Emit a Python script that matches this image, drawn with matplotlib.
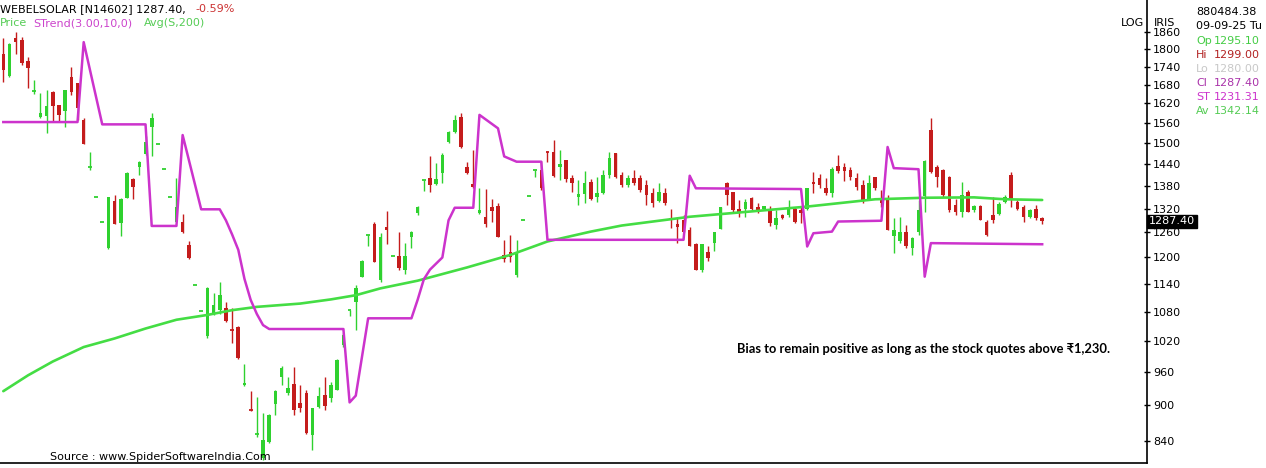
import numpy as np
import matplotlib
matplotlib.use("Agg")
import matplotlib.pyplot as plt

# ---------------- data ----------------
opens = [1785, 1709, 1841, 1833, 1759, 1653, 1578, 1581, 1657, 1614,
         1596, 1706, 1684, 1568, 1426, 1351, 1285, 1222, 1339, 1283,
         1348, 1398, 1432, 1467, 1548, 1498, 1425, 1351, 1287, 1287,
         1230, 1137, 1081, 1029, 1076, 1083, 1087, 1044, 1049, 936,
         894, 848, 812, 838, 902, 950, 921, 938, 904, 921,
         849, 897, 918, 912, 928, 1012, 1082, 1101, 1156, 1253,
         1281, 1149, 1274, 1203, 1203, 1171, 1250, 1308, 1394, 1400,
         1384, 1414, 1503, 1533, 1578, 1432, 1384, 1309, 1299, 1325,
         1326, 1206, 1214, 1160, 1291, 1353, 1422, 1423, 1474, 1474,
         1432, 1451, 1400, 1349, 1358, 1390, 1351, 1360, 1409, 1470,
         1409, 1381, 1401, 1400, 1381, 1360, 1340, 1361, 1299, 1280,
         1291, 1266, 1232, 1171, 1214, 1234, 1269, 1388, 1362, 1320,
         1320, 1348, 1325, 1320, 1320, 1279, 1304, 1304, 1320, 1316,
         1320, 1390, 1400, 1375, 1361, 1434, 1431, 1423, 1400, 1381,
         1346, 1403, 1346, 1344, 1252, 1238, 1262, 1222, 1262, 1353,
         1538, 1432, 1423, 1404, 1329, 1312, 1363, 1316, 1326, 1287,
         1304, 1306, 1338, 1409, 1338, 1325, 1299, 1320, 1295.10]
highs = [1839, 1821, 1862, 1845, 1773, 1695, 1652, 1663, 1660, 1616,
         1664, 1739, 1686, 1573, 1474, 1351, 1285, 1351, 1355, 1348,
         1416, 1401, 1448, 1520, 1589, 1498, 1425, 1351, 1400, 1305,
         1238, 1137, 1081, 1134, 1119, 1145, 1101, 1087, 1050, 975,
         925, 915, 887, 884, 927, 972, 951, 970, 936, 927,
         896, 933, 951, 942, 984, 1036, 1083, 1137, 1194, 1254,
         1287, 1258, 1313, 1203, 1262, 1235, 1264, 1326, 1395, 1462,
         1442, 1470, 1536, 1583, 1591, 1446, 1479, 1375, 1370, 1344,
         1334, 1242, 1254, 1242, 1291, 1353, 1423, 1448, 1475, 1508,
         1479, 1452, 1409, 1395, 1420, 1397, 1403, 1423, 1474, 1472,
         1418, 1409, 1423, 1409, 1395, 1373, 1386, 1373, 1320, 1298,
         1304, 1273, 1234, 1233, 1228, 1262, 1325, 1390, 1363, 1342,
         1346, 1351, 1335, 1327, 1326, 1316, 1306, 1342, 1325, 1326,
         1375, 1418, 1412, 1400, 1432, 1465, 1442, 1432, 1414, 1395,
         1409, 1404, 1368, 1355, 1295, 1298, 1278, 1250, 1342, 1451,
         1573, 1437, 1425, 1405, 1346, 1390, 1368, 1329, 1329, 1291,
         1349, 1338, 1355, 1416, 1342, 1329, 1320, 1329, 1299.00]
lows = [1689, 1706, 1785, 1745, 1668, 1651, 1573, 1528, 1563, 1563,
        1548, 1647, 1568, 1497, 1423, 1351, 1285, 1221, 1280, 1252,
        1347, 1346, 1409, 1466, 1462, 1498, 1425, 1351, 1286, 1259,
        1197, 1137, 1081, 1026, 1073, 1076, 1059, 1015, 985, 935,
        890, 846, 809, 836, 883, 936, 918, 883, 889, 851,
        825, 895, 892, 906, 927, 1008, 1071, 1042, 1155, 1226,
        1189, 1145, 1231, 1203, 1171, 1163, 1222, 1304, 1366, 1363,
        1381, 1386, 1500, 1528, 1486, 1412, 1373, 1307, 1274, 1287,
        1249, 1190, 1190, 1156, 1291, 1353, 1404, 1368, 1446, 1404,
        1395, 1390, 1363, 1329, 1334, 1342, 1338, 1359, 1400, 1402,
        1377, 1377, 1381, 1363, 1329, 1323, 1337, 1329, 1270, 1235,
        1261, 1226, 1170, 1167, 1192, 1216, 1268, 1329, 1312, 1298,
        1298, 1316, 1308, 1318, 1276, 1268, 1294, 1298, 1284, 1283,
        1316, 1360, 1375, 1355, 1351, 1414, 1393, 1395, 1368, 1334,
        1342, 1368, 1325, 1265, 1210, 1234, 1222, 1206, 1254, 1312,
        1414, 1377, 1351, 1312, 1304, 1299, 1311, 1312, 1290, 1252,
        1283, 1304, 1334, 1325, 1316, 1287, 1295, 1291, 1280.00]
closes = [1728, 1817, 1827, 1754, 1736, 1658, 1590, 1612, 1613, 1583,
          1661, 1657, 1604, 1498, 1431, 1351, 1285, 1349, 1281, 1346,
          1414, 1377, 1446, 1503, 1575, 1498, 1425, 1351, 1325, 1260,
          1198, 1137, 1081, 1130, 1094, 1115, 1060, 1041, 986, 940,
          891, 851, 841, 883, 926, 968, 930, 892, 895, 852,
          895, 916, 898, 936, 983, 1032, 1083, 1130, 1192, 1254,
          1190, 1248, 1266, 1203, 1175, 1203, 1262, 1325, 1395, 1381,
          1398, 1465, 1533, 1568, 1487, 1414, 1377, 1316, 1281, 1314,
          1250, 1196, 1202, 1214, 1291, 1353, 1423, 1373, 1473, 1406,
          1439, 1397, 1386, 1358, 1386, 1344, 1360, 1409, 1456, 1404,
          1381, 1400, 1386, 1368, 1355, 1334, 1364, 1335, 1294, 1273,
          1262, 1228, 1171, 1232, 1198, 1260, 1323, 1355, 1316, 1308,
          1338, 1320, 1316, 1326, 1283, 1295, 1296, 1318, 1287, 1308,
          1373, 1384, 1381, 1361, 1425, 1420, 1420, 1404, 1377, 1342,
          1388, 1373, 1334, 1266, 1266, 1262, 1226, 1246, 1316, 1449,
          1418, 1404, 1355, 1316, 1312, 1355, 1312, 1326, 1291, 1254,
          1290, 1332, 1349, 1342, 1318, 1299, 1316, 1295, 1287.40]

# 200-period average, read at sampled bars
avg_idx = [0, 4, 8, 13, 18, 23, 28, 33, 37, 41, 48, 53, 57, 61, 67, 75,
           82, 88, 95, 100, 111, 122, 130, 141, 149, 157, 162, 168]
avg_val = [925, 954, 980, 1008, 1025, 1045, 1063, 1073, 1083, 1090, 1097,
           1106, 1115, 1130, 1147, 1177, 1206, 1238, 1262, 1277, 1299, 1314,
           1325, 1344, 1348, 1349, 1344, 1342.14]

# SuperTrend(3,10) line, read at its turning bars
st_idx = [0, 12, 13, 16, 23, 24, 28, 29, 32, 35, 36, 37, 38, 39, 40, 41, 42,
          43, 55, 56, 57, 59, 66, 67, 68, 69, 71, 72, 73, 76, 77, 80, 81, 83,
          87, 88, 110, 111, 112, 129, 130, 131, 134, 135, 142, 143, 144, 148,
          149, 150, 168]
st_val = [1562, 1562, 1825, 1555, 1555, 1276, 1276, 1523, 1318, 1318, 1290,
          1255, 1218, 1151, 1105, 1075, 1052, 1044, 1044, 905, 917, 1066,
          1066, 1105, 1150, 1172, 1200, 1290, 1322, 1322, 1584, 1543, 1461,
          1446, 1446, 1242, 1242, 1407, 1373, 1371, 1226, 1258, 1262, 1287,
          1289, 1488, 1428, 1425, 1156, 1234, 1231.31]

yticks = [840, 900, 960, 1020, 1080, 1140, 1200, 1260, 1320, 1380, 1440,
          1500, 1560, 1620, 1680, 1740, 1800, 1860]

info_labels = ["Op", "Hi", "Lo", "Cl", "ST", "Av"]
info_values = ["1295.10", "1299.00", "1280.00", "1287.40", "1231.31", "1342.14"]

# ---------------- style ----------------
GREEN = "#2fd12f"
RED = "#c41c1c"
MAGENTA = "#cc33cc"
AVG = "#44dd44"

W, H = 1266, 468
fig = plt.figure(figsize=(W / 100, H / 100), dpi=100)
fig.patch.set_facecolor("white")

ax_left, ax_right, ax_top, ax_bot = 0, 1147, 0, 463
ax = fig.add_axes([ax_left / W, 1 - ax_bot / H, (ax_right - ax_left) / W,
                   (ax_bot - ax_top) / H])
ax.set_yscale("log")
ax.set_ylim(804.3, 1981)
ax.set_xlim(-0.534, 184.95)

o = np.array(opens, float)
h = np.array(highs, float)
l = np.array(lows, float)
c = np.array(closes, float)
x = np.arange(len(c))
up = c >= o
cols = np.where(up, GREEN, RED)

ax.vlines(x, l, h, colors=cols, linewidth=1.0, zorder=2)
blo = np.minimum(o, c)
bhi = np.maximum(o, c)
thin = (bhi / blo - 1) < 0.004
ax.bar(x[~thin], (bhi - blo)[~thin], bottom=blo[~thin], width=0.58,
       color=cols[~thin], linewidth=0, zorder=2)
ax.hlines(c[thin], x[thin] - 0.3, x[thin] + 0.3, colors=cols[thin],
          linewidth=1.3, zorder=2)

ax.plot(avg_idx, avg_val, color=AVG, linewidth=1.9, zorder=3,
        solid_capstyle="round")
ax.plot(st_idx, st_val, color=MAGENTA, linewidth=1.8, zorder=3,
        solid_joinstyle="round")

# axes styling
for s in ["left", "top"]:
    ax.spines[s].set_visible(False)
ax.spines["right"].set_linewidth(1.2)
ax.spines["bottom"].set_linewidth(1.2)
ax.set_xticks([])
ax.yaxis.tick_right()
ax.set_yticks(yticks)
ax.set_yticklabels([str(v) for v in yticks])
ax.yaxis.set_minor_locator(matplotlib.ticker.NullLocator())
ax.tick_params(axis="y", direction="inout", length=5, width=1, pad=2,
               labelsize=8, colors="black")

# last price box
ax.text(1.0015, 1287.4, "1287.40", transform=ax.get_yaxis_transform(),
        color="white", fontsize=8, va="center", ha="left",
        bbox=dict(boxstyle="square,pad=0.15", fc="black", ec="black"),
        zorder=10, clip_on=False)


def ftext(px, py, s, **kw):
    kw.setdefault("va", "baseline")
    kw.setdefault("ha", "left")
    fig.text(px / W, 1 - py / H, s, **kw)


fs = 8.0
ftext(0, 12, "WEBELSOLAR [N14602] 1287.40,", color="black", fontsize=fs)
ftext(195, 12, "-0.59%", color="#cc3333", fontsize=fs)
ftext(0, 26.5, "Price", color="#55cc55", fontsize=fs)
ftext(33, 26.5, "STrend(3.00,10,0)", color="#cc44cc", fontsize=fs)
ftext(144, 26.5, "Avg(S,200)", color="#55cc55", fontsize=fs)

ftext(1121, 25.5, "LOG", color="black", fontsize=fs)
ftext(1154, 25.5, "IRIS", color="black", fontsize=fs)

ftext(1196, 15, "880484.38", color="black", fontsize=fs)
ftext(1196, 29.3, "09-09-25 Tu", color="black", fontsize=fs)
info_cols = ["#44cc44", "#b22222", "#c8c8c8", "#aa33aa", "#cc33cc", "#55cc55"]
for k, (lab, val, col) in enumerate(zip(info_labels, info_values, info_cols)):
    yb = 44.5 + k * 13.8
    ftext(1196, yb, lab, color=col, fontsize=fs)
    ftext(1214, yb, val, color=col, fontsize=fs)

ftext(737, 353, "Bias to remain positive as long as the stock quotes above \u20b91,230.",
      color="black", fontsize=9.3, fontweight="bold",
      family=["Lato", "DejaVu Sans"])
ftext(50, 460, "Source : www.SpiderSoftwareIndia.Com", color="black",
      fontsize=8.0)

fig.savefig("out.png", dpi=100, facecolor="white")
